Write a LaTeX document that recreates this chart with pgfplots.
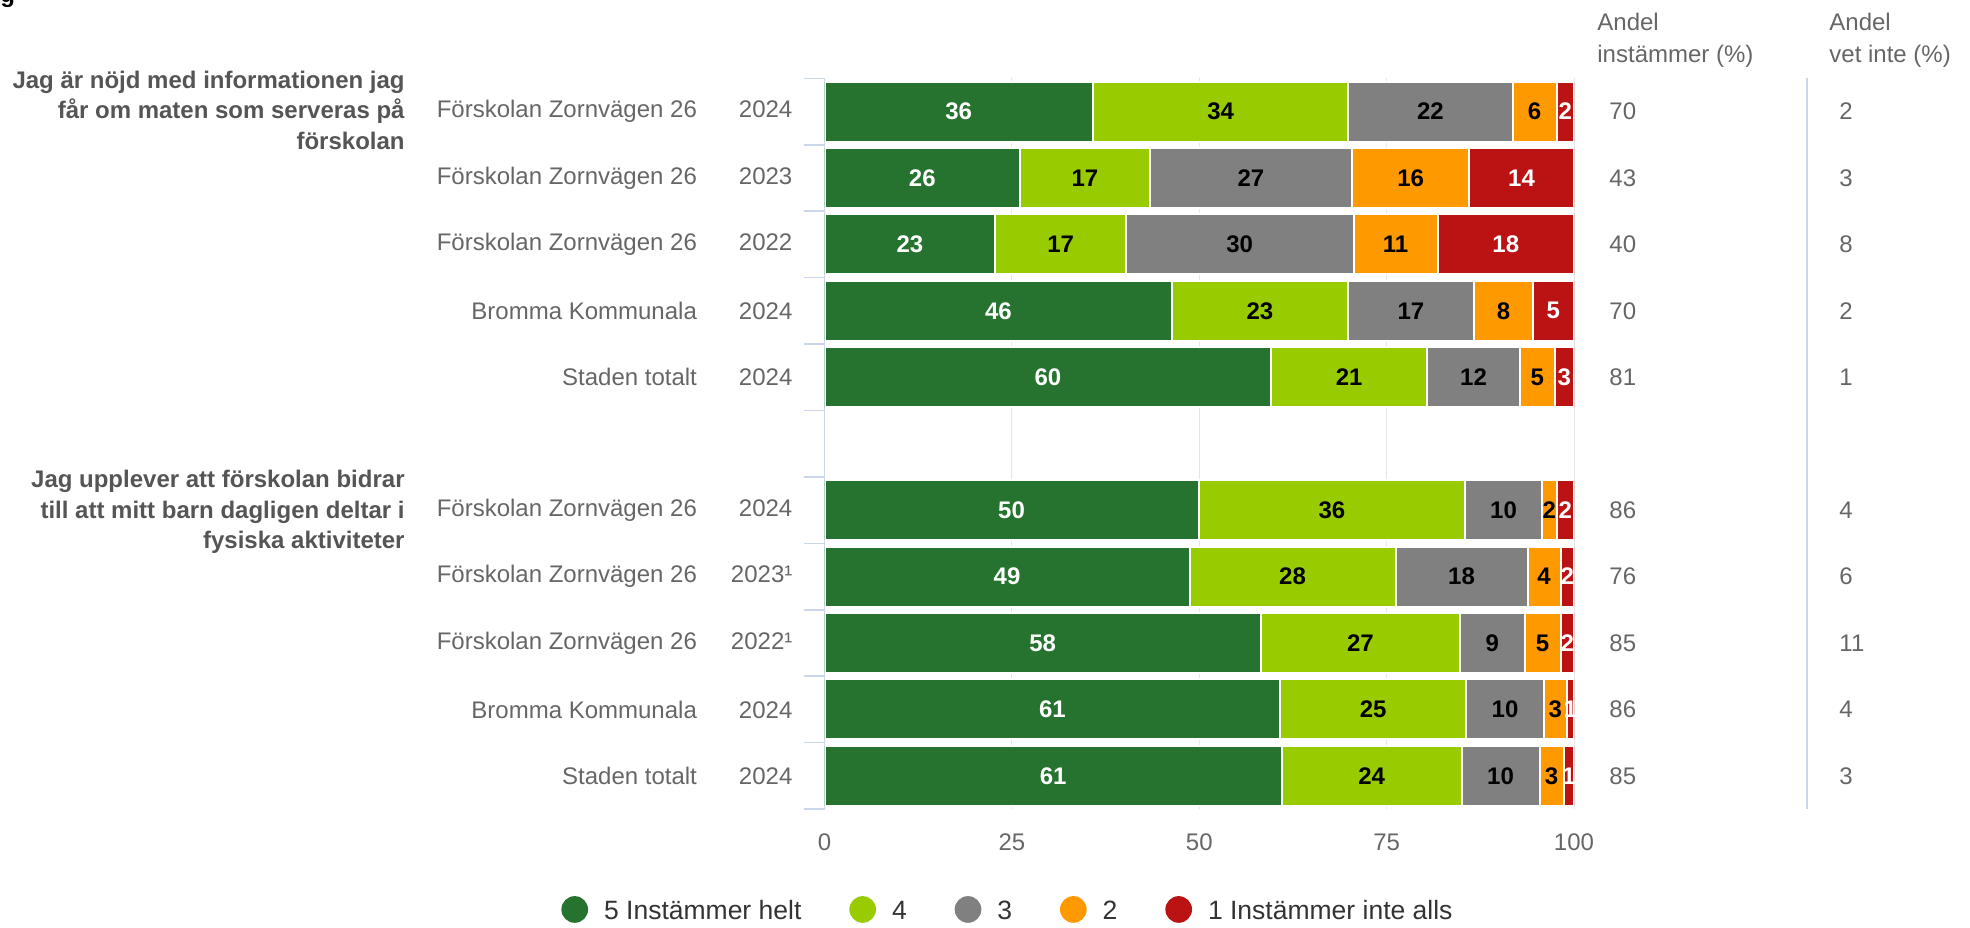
\documentclass[border=0pt]{standalone}
\usepackage{pgfplots}
\pgfplotsset{compat=1.18}
\usepackage{pgfplotstable}
\usepackage{fontspec}
\setmainfont{Liberation Sans}
\definecolor{c5}{HTML}{26732F}
\definecolor{c4}{HTML}{99CC00}
\definecolor{c3}{HTML}{808080}
\definecolor{c2}{HTML}{FF9900}
\definecolor{c1}{HTML}{BB1313}
\definecolor{gridc}{HTML}{E6E6E6}
\definecolor{tickc}{HTML}{CCD6EB}
\definecolor{labc}{HTML}{666666}
\definecolor{grpc}{HTML}{555555}
\definecolor{legc}{HTML}{333333}
\newcommand\fl{\fontsize{12}{14.4}\selectfont}
\newcommand\fleg{\fontsize{13.25}{16}\selectfont}

\pgfplotstableread{
y v5 l5 v4 l4 v3 l3 v2 l2 v1 l1 inst vet
10 35.8 36 34.1 34 21.9 22 5.9 6 2.3 2 70 2
9 26.1 26 17.3 17 27.0 27 15.6 16 14.0 14 43 3
8 22.8 23 17.4 17 30.4 30 11.2 11 18.2 18 40 8
7 46.4 46 23.4 23 16.9 17 7.8 8 5.5 5 70 2
6 59.6 60 20.8 21 12.4 12 4.6 5 2.6 3 81 1
4 49.9 50 35.6 36 10.2 10 2.0 2 2.3 2 86 4
3 48.7 49 27.5 28 17.6 18 4.4 4 1.8 2 76 6
2 58.2 58 26.6 27 8.6 9 4.8 5 1.8 2 85 11
1 60.8 61 24.8 25 10.4 10 3.0 3 1.0 1 86 4
0 61.0 61 24.0 24 10.4 10 3.2 3 1.4 1 85 3
}\data

\pgfplotsset{
  circleg/.style={legend image code/.code={\fill[#1,draw=none] (6.67pt,1pt) circle (6.67pt); \path (0pt,0pt) (21.15pt,0pt);}},
}

\begin{document}
\begin{tikzpicture}
\useasboundingbox (0,0) rectangle (985pt,463.5pt);
\begin{axis}[
  at={(412.25pt,58.97pt)}, anchor=south west,
  scale only axis, width=374.75pt, height=365.35pt,
  xbar stacked, bar width=30pt,
  xmin=0, xmax=100, ymin=-0.5, ymax=10.5,
  axis x line=bottom, axis y line=left,
  separate axis lines,
  x axis line style={draw=none},
  y axis line style={draw=tickc, line width=0.75pt, -},
  xtick={0,25,50,75,100},
  xtick style={draw=none},
  xmajorgrids, grid style={draw=gridc, line width=0.5pt},
  ytick={-0.5,0.5,...,10.5},
  yticklabels={},
  ytick style={draw=tickc, line width=0.75pt},
  tick align=outside, major tick length=10.5pt,
  extra y ticks={0,1,2,3,4,6,7,8,9,10},
  extra y tick labels={
    {Staden totalt\makebox[47.75pt][r]{2024}},
    {Bromma Kommunala\makebox[47.75pt][r]{2024}},
    {Förskolan Zornvägen 26\makebox[47.75pt][r]{2022¹}},
    {Förskolan Zornvägen 26\makebox[47.75pt][r]{2023¹}},
    {Förskolan Zornvägen 26\makebox[47.75pt][r]{2024}},
    {Staden totalt\makebox[47.75pt][r]{2024}},
    {Bromma Kommunala\makebox[47.75pt][r]{2024}},
    {Förskolan Zornvägen 26\makebox[47.75pt][r]{2022}},
    {Förskolan Zornvägen 26\makebox[47.75pt][r]{2023}},
    {Förskolan Zornvägen 26\makebox[47.75pt][r]{2024}}},
  extra y tick style={major tick length=0pt, yticklabel style={anchor=east, inner sep=0pt, xshift=-15.85pt}},
  tick label style={font=\fl, text=labc},
  xticklabel style={anchor=center, yshift=-6.3pt},
  /pgf/number format/assume math mode=true,
  point meta=explicit symbolic,
  nodes near coords,
  nodes near coords style={anchor=center, font=\fl\bfseries},
  legend columns=5,
  legend entries={5 Instämmer helt,4,3,2,1 Instämmer inte alls},
  legend style={at={(axis description cs:-0.3516,-0.1374)}, anchor=west, draw=none, fill=none,
    inner sep=0pt, outer sep=0pt, font=\fleg, text=legc, nodes={inner sep=0pt},
    /tikz/every even column/.append style={column sep=23.75pt}},
]
\addlegendimage{circleg, fill=c5}
\addlegendimage{circleg, fill=c4}
\addlegendimage{circleg, fill=c3}
\addlegendimage{circleg, fill=c2}
\addlegendimage{circleg, fill=c1}
\addplot[fill=c5, draw=white, line width=1pt, nodes near coords style={text=white}] table[x=v5, y=y, meta=l5]{\data};
\addplot[fill=c4, draw=white, line width=1pt, nodes near coords style={text=black}] table[x=v4, y=y, meta=l4]{\data};
\addplot[fill=c3, draw=white, line width=1pt, nodes near coords style={text=black}] table[x=v3, y=y, meta=l3]{\data};
\addplot[fill=c2, draw=white, line width=1pt, nodes near coords style={text=black}] table[x=v2, y=y, meta=l2]{\data};
\addplot[fill=c1, draw=white, line width=1pt, nodes near coords style={text=white}] table[x=v1, y=y, meta=l1]{\data};
\end{axis}
\begin{axis}[
  at={(412.25pt,58.97pt)}, anchor=south west,
  scale only axis, width=374.75pt, height=365.35pt,
  xmin=0, xmax=100, ymin=-0.5, ymax=10.5,
  hide axis, clip=false,
  point meta=explicit symbolic,
]
\draw[tickc, line width=1pt] (axis cs:131.05,-0.5) -- (axis cs:131.05,10.5);
\addplot[draw=none, mark=none, nodes near coords, nodes near coords style={anchor=west, inner sep=0pt, font=\fl, text=labc}] table[x expr=104.67, y=y, meta=inst]{\data};
\addplot[draw=none, mark=none, nodes near coords, nodes near coords style={anchor=west, inner sep=0pt, font=\fl, text=labc}] table[x expr=135.36, y=y, meta=vet]{\data};
\end{axis}
\begin{scope}[x=0.5pt, y=0.5pt]
\node[anchor=base west, inner sep=0pt, font=\fl\bfseries] at (0,924) {g};
\begin{scope}[every node/.style={anchor=base west, inner sep=0pt, font=\fl, text=labc}]
\node at (1597,896.3) {Andel};
\node at (1597,864) {instämmer (\%)};
\node at (1829,896.3) {Andel};
\node at (1829,864) {vet inte (\%)};
\end{scope}
\begin{scope}[every node/.style={anchor=base east, inner sep=0pt, font=\fl\bfseries, text=grpc}]
\node at (405,838.5) {Jag är nöjd med informationen jag};
\node at (405,808) {får om maten som serveras på};
\node at (405,777.5) {förskolan};
\node at (405,439.2) {Jag upplever att förskolan bidrar};
\node at (405,408.7) {till att mitt barn dagligen deltar i};
\node at (405,378.2) {fysiska aktiviteter};
\end{scope}
\end{scope}
\end{tikzpicture}
\end{document}
